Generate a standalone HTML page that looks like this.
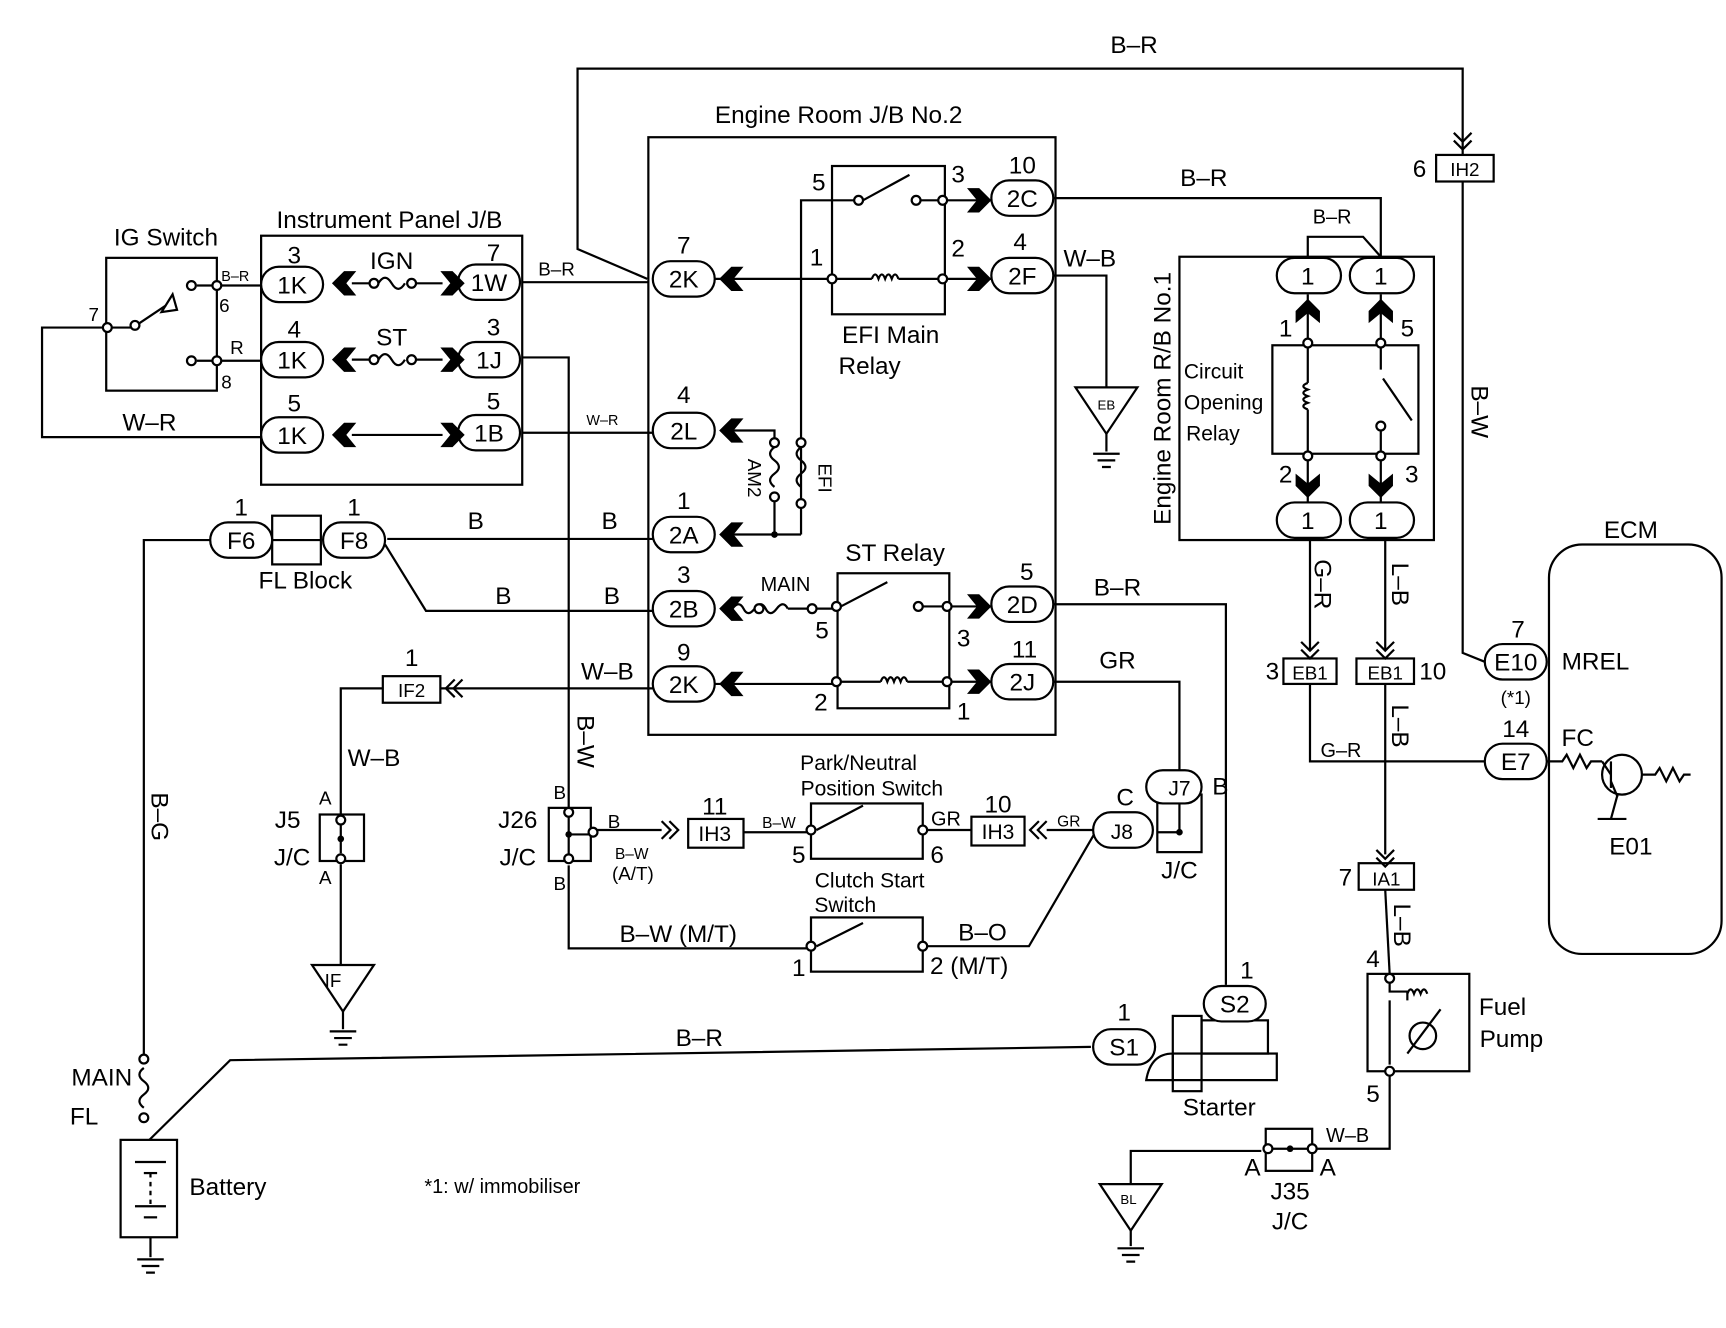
<!DOCTYPE html>
<html><head><meta charset="utf-8"><style>
html,body{margin:0;padding:0;background:#fff}
svg{display:block}
text{font-family:"Liberation Sans",sans-serif;fill:#000}
</style></head><body>
<svg width="1726" height="1328" viewBox="0 0 1560 1200" preserveAspectRatio="none" xmlns="http://www.w3.org/2000/svg">
<defs>
<path id="cr" d="M-12,-11 L-1,-11 L10,0 L-1,11 L-12,11 L-3,0Z" fill="#000"/>
<path id="cl" d="M12,-11 L1,-11 L-10,0 L1,11 L12,11 L3,0Z" fill="#000"/>
<path id="cu" d="M-11,12 L-11,1 L0,-10 L11,1 L11,12 L0,3Z" fill="#000"/>
<path id="cd" d="M-11,-12 L-11,-1 L0,10 L11,-1 L11,-12 L0,-3Z" fill="#000"/>
<path id="od" d="M-8,-10 L0,-2 L8,-10 M-8,-3 L0,5 L8,-3" fill="none" stroke="#000" stroke-width="2"/>
<path id="ol" d="M10,-8 L2,0 L10,8 M3,-8 L-5,0 L3,8" fill="none" stroke="#000" stroke-width="2"/>
<path id="orr" d="M-10,-8 L-2,0 L-10,8 M-3,-8 L5,0 L-3,8" fill="none" stroke="#000" stroke-width="2"/>
<path id="gnd" d="M-12,0 L12,0 M-8,6 L8,6 M-4,12 L4,12" fill="none" stroke="#000" stroke-width="2"/>
</defs>
<g fill="none" stroke="#000" stroke-width="2">
<!-- top B-R loop -->
<polyline points="585,252 522,225 522,62 1322,62 1322,140"/>
<rect x="1298" y="140" width="52" height="24"/>
<polyline points="1322,164 1322,590 1342,598"/>
<!-- Engine Room J/B No.2 -->
<rect x="586" y="124" width="368" height="540"/>
<!-- EFI main relay -->
<rect x="752" y="150" width="102" height="134"/>
<polyline points="724,455 724,181 776,181"/>
<line x1="780" y1="181" x2="822" y2="158"/>
<line x1="832" y1="181" x2="848" y2="181"/>
<line x1="856" y1="181" x2="900" y2="181"/>
<line x1="646" y1="252" x2="752" y2="252"/>
<line x1="756" y1="252" x2="788" y2="252"/>
<path d="M788,252 q3,-8 6,0 q3,-8 6,0 q3,-8 6,0 q3,-8 6,0"/>
<line x1="812" y1="252" x2="848" y2="252"/>
<line x1="856" y1="252" x2="900" y2="252"/>
<!-- 2C / 2F -->
<polyline points="952,179 1248,179 1248,232"/>
<polyline points="952,249 1000,249 1000,350"/>
<polygon points="972,350 1028,350 1000,392"/>
<line x1="1000" y1="392" x2="1000" y2="408"/>
<!-- IG switch -->
<rect x="96" y="233" width="100" height="120"/>
<polyline points="94,296 38,296 38,395 236,395"/>
<line x1="101" y1="296" x2="118" y2="296"/>
<line x1="126" y1="292" x2="150" y2="276"/>
<polygon points="146,282 156,266 160,280"/>
<line x1="178" y1="258" x2="236" y2="258"/>
<line x1="178" y1="326" x2="236" y2="326"/>
<!-- Instrument panel J/B -->
<rect x="236" y="213" width="236" height="225"/>
<line x1="318" y1="256" x2="334" y2="256"/>
<path d="M342,256 q6,-10 12,0 q6,10 12,0"/>
<line x1="374" y1="256" x2="400" y2="256"/>
<line x1="318" y1="325" x2="334" y2="325"/>
<path d="M342,325 q6,-10 12,0 q6,10 12,0"/>
<line x1="374" y1="325" x2="400" y2="325"/>
<line x1="318" y1="393" x2="400" y2="393"/>
<line x1="472" y1="255" x2="586" y2="255"/>
<polyline points="472,323 514,323 514,730"/>
<line x1="472" y1="391" x2="594" y2="391"/>
<!-- 2L, AM2, EFI -->
<polyline points="660,389 700,389 700,404"/>
<path d="M700,404 q-8,6 0,12 q8,6 0,12 q-8,6 0,12"/>
<line x1="700" y1="445" x2="700" y2="483"/>
<path d="M724,404 q-8,6 0,12 q8,6 0,12 q-8,6 0,12"/>
<line x1="724" y1="459" x2="724" y2="483"/>
<line x1="660" y1="483" x2="724" y2="483"/>
<line x1="350" y1="487" x2="594" y2="487"/>
<!-- FL block -->
<rect x="246" y="466" width="44" height="44"/>
<line x1="246" y1="488" x2="290" y2="488"/>
<polyline points="190,488 130,488 130,955"/>
<polyline points="348,492 385,552 594,552"/>
<!-- ST relay -->
<rect x="757" y="518" width="101" height="122"/>
<path d="M662,550 q6,-8 10,0 q4,8 10,0 q6,-8 10,0 q4,8 10,0 q6,-8 10,0"/>
<line x1="712" y1="550" x2="752" y2="550"/>
<line x1="760" y1="548" x2="802" y2="526"/>
<line x1="834" y1="548" x2="852" y2="548"/>
<line x1="860" y1="548" x2="900" y2="548"/>
<line x1="646" y1="618" x2="752" y2="618"/>
<line x1="760" y1="616" x2="796" y2="616"/>
<path d="M796,616 q3,-8 6,0 q3,-8 6,0 q3,-8 6,0 q3,-8 6,0"/>
<line x1="820" y1="616" x2="852" y2="616"/>
<line x1="860" y1="616" x2="900" y2="616"/>
<line x1="398" y1="622" x2="594" y2="622"/>
<rect x="346" y="611" width="52" height="24"/>
<polyline points="346,622 308,622 308,736"/>
<polyline points="952,546 1108,546 1108,890"/>
<polyline points="952,616 1066,616 1066,698"/>
<!-- J5 -->
<rect x="289" y="736" width="40" height="42"/>
<line x1="308" y1="745" x2="308" y2="771"/>
<line x1="308" y1="781" x2="308" y2="872"/>
<polygon points="282,872 338,872 310,914"/>
<line x1="310" y1="914" x2="310" y2="930"/>
<!-- J26 -->
<rect x="496" y="730" width="38" height="48"/>
<line x1="514" y1="738" x2="514" y2="772"/>
<line x1="514" y1="754" x2="532" y2="754"/>
<line x1="540" y1="750" x2="598" y2="750"/>
<rect x="622" y="740" width="50" height="26"/>
<line x1="672" y1="752" x2="730" y2="752"/>
<rect x="733" y="726" width="101" height="50"/>
<line x1="738" y1="750" x2="780" y2="728"/>
<line x1="838" y1="750" x2="878" y2="750"/>
<rect x="878" y="738" width="48" height="26"/>
<line x1="946" y1="750" x2="988" y2="750"/>
<polyline points="514,782 514,857 730,857"/>
<rect x="733" y="829" width="101" height="49"/>
<line x1="738" y1="855" x2="780" y2="834"/>
<polyline points="838,855 930,855 990,752"/>
<!-- J7/J8 -->
<rect x="1046" y="718" width="40" height="52"/>
<polyline points="1066,726 1066,752 1046,752"/>
<!-- Starter -->
<polyline points="986,946 208,958 135,1030"/>
<rect x="1086" y="922" width="60" height="30"/>
<rect x="1060" y="918" width="26" height="68"/>
<rect x="1060" y="952" width="94" height="24"/>
<path d="M1060,952 q-20,0 -24,24 L1060,976"/>
<!-- MAIN FL / battery -->
<path d="M130,965 q-8,6 0,12 q8,6 0,12 q-8,6 0,12"/>
<rect x="109" y="1030" width="51" height="88"/>
<line x1="122" y1="1050" x2="150" y2="1050"/><line x1="130" y1="1060" x2="142" y2="1060"/>
<line x1="122" y1="1090" x2="150" y2="1090"/><line x1="130" y1="1100" x2="142" y2="1100"/>
<line x1="136" y1="1060" x2="136" y2="1090" stroke-dasharray="4,4"/>
<line x1="136" y1="1118" x2="136" y2="1136"/>
<!-- Engine Room R/B No.1 -->
<rect x="1066" y="232" width="230" height="256"/>
<polyline points="1182,232 1182,214 1232,214 1248,232"/>
<line x1="1182" y1="266" x2="1182" y2="306"/>
<line x1="1248" y1="266" x2="1248" y2="306"/>
<rect x="1150" y="312" width="132" height="98"/>
<line x1="1182" y1="314" x2="1182" y2="346"/>
<path d="M1182,346 q-8,3 0,6 q-8,3 0,6 q-8,3 0,6 q-8,3 0,6"/>
<line x1="1182" y1="370" x2="1182" y2="408"/>
<line x1="1248" y1="314" x2="1248" y2="334"/>
<line x1="1250" y1="342" x2="1276" y2="380"/>
<line x1="1248" y1="389" x2="1248" y2="408"/>
<line x1="1182" y1="416" x2="1182" y2="454"/>
<line x1="1248" y1="416" x2="1248" y2="454"/>
<line x1="1184" y1="486" x2="1184" y2="588"/>
<rect x="1160" y="595" width="48" height="23"/>
<polyline points="1184,618 1184,688 1342,688"/>
<line x1="1252" y1="486" x2="1252" y2="588"/>
<rect x="1226" y="595" width="52" height="23"/>
<line x1="1252" y1="618" x2="1252" y2="772"/>
<rect x="1228" y="780" width="50" height="24"/>
<line x1="1252" y1="804" x2="1256" y2="880"/>
<!-- fuel pump -->
<rect x="1236" y="880" width="92" height="88"/>
<polyline points="1256,888 1256,896 1272,896 1272,904"/>
<path d="M1272,898 q3,-8 6,0 q3,-8 6,0 q3,-8 6,0"/>
<line x1="1256" y1="904" x2="1256" y2="962"/>
<circle cx="1286" cy="936" r="12"/>
<line x1="1272" y1="952" x2="1302" y2="912"/>
<polyline points="1256,972 1256,1038 1190,1038"/>
<rect x="1144" y="1020" width="42" height="38"/>
<line x1="1150" y1="1038" x2="1182" y2="1038"/>
<polyline points="1140,1040 1022,1040 1022,1070"/>
<polygon points="994,1070 1050,1070 1022,1112"/>
<line x1="1022" y1="1112" x2="1022" y2="1126"/>
<!-- ECM -->
<rect x="1400" y="492" width="156" height="370" rx="30"/>
<path d="M1398,688 L1412,688 l4,-6 l6,12 l6,-12 l6,12 l4,-6 L1448,688"/>
<circle cx="1466" cy="700" r="18"/>
<line x1="1456" y1="688" x2="1456" y2="712"/>
<line x1="1456" y1="700" x2="1448" y2="688"/>
<line x1="1456" y1="706" x2="1462" y2="720"/>
<line x1="1462" y1="718" x2="1456" y2="740"/>
<line x1="1444" y1="740" x2="1470" y2="740"/>
<path d="M1484,700 L1496,700 l4,-6 l6,12 l6,-12 l6,12 l4,-6 L1528,700"/>
</g>
<g fill="#fff" stroke="#000" stroke-width="2">
<!-- connectors -->
<rect x="236" y="241" width="56" height="32" rx="16"/>
<rect x="236" y="309" width="56" height="32" rx="16"/>
<rect x="236" y="377" width="56" height="32" rx="16"/>
<rect x="414" y="239" width="56" height="32" rx="16"/>
<rect x="414" y="309" width="56" height="32" rx="16"/>
<rect x="414" y="375" width="56" height="32" rx="16"/>
<rect x="590" y="236" width="56" height="32" rx="16"/>
<rect x="590" y="373" width="56" height="32" rx="16"/>
<rect x="590" y="467" width="56" height="32" rx="16"/>
<rect x="590" y="534" width="56" height="32" rx="16"/>
<rect x="590" y="602" width="56" height="32" rx="16"/>
<rect x="896" y="163" width="56" height="32" rx="16"/>
<rect x="896" y="233" width="56" height="32" rx="16"/>
<rect x="896" y="530" width="56" height="32" rx="16"/>
<rect x="896" y="600" width="56" height="32" rx="16"/>
<rect x="190" y="472" width="56" height="32" rx="16"/>
<rect x="292" y="472" width="56" height="32" rx="16"/>
<rect x="1154" y="233" width="58" height="32" rx="16"/>
<rect x="1220" y="233" width="58" height="32" rx="16"/>
<rect x="1154" y="454" width="58" height="32" rx="16"/>
<rect x="1220" y="454" width="58" height="32" rx="16"/>
<rect x="1342" y="582" width="56" height="32" rx="16"/>
<rect x="1342" y="672" width="56" height="32" rx="16"/>
<rect x="1036" y="696" width="50" height="30" rx="15"/>
<rect x="988" y="734" width="54" height="32" rx="16"/>
<rect x="1088" y="891" width="56" height="32" rx="16"/>
<rect x="988" y="930" width="56" height="32" rx="16"/>
<!-- circles -->
<circle cx="97" cy="296" r="4"/><circle cx="122" cy="294" r="4"/>
<circle cx="173" cy="258" r="4"/><circle cx="196" cy="258" r="4"/>
<circle cx="173" cy="326" r="4"/><circle cx="196" cy="326" r="4"/>
<circle cx="338" cy="256" r="4"/><circle cx="372" cy="256" r="4"/>
<circle cx="338" cy="325" r="4"/><circle cx="372" cy="325" r="4"/>
<circle cx="776" cy="181" r="4"/><circle cx="828" cy="181" r="4"/><circle cx="852" cy="181" r="4"/>
<circle cx="752" cy="252" r="4"/><circle cx="852" cy="252" r="4"/>
<circle cx="700" cy="400" r="4"/><circle cx="700" cy="449" r="4"/>
<circle cx="724" cy="400" r="4"/><circle cx="724" cy="455" r="4"/>
<circle cx="686" cy="550" r="4"/><circle cx="734" cy="550" r="4"/>
<circle cx="756" cy="548" r="4"/><circle cx="830" cy="548" r="4"/><circle cx="856" cy="548" r="4"/>
<circle cx="756" cy="616" r="4"/><circle cx="856" cy="616" r="4"/>
<circle cx="308" cy="741" r="4"/><circle cx="308" cy="776" r="4"/>
<circle cx="514" cy="734" r="4"/><circle cx="514" cy="776" r="4"/><circle cx="536" cy="752" r="4"/>
<circle cx="733" cy="750" r="4"/><circle cx="834" cy="750" r="4"/>
<circle cx="733" cy="855" r="4"/><circle cx="834" cy="855" r="4"/>
<circle cx="130" cy="957" r="4"/><circle cx="130" cy="1010" r="4"/>
<circle cx="1182" cy="310" r="4"/><circle cx="1248" cy="310" r="4"/>
<circle cx="1182" cy="412" r="4"/><circle cx="1248" cy="412" r="4"/><circle cx="1248" cy="385" r="4"/>
<circle cx="1256" cy="884" r="4"/><circle cx="1256" cy="968" r="4"/>
<circle cx="1146" cy="1038" r="4"/><circle cx="1186" cy="1038" r="4"/>
</g>
<circle cx="514" cy="754" r="3" fill="#000"/>
<circle cx="308" cy="758" r="3" fill="#000"/>
<circle cx="1066" cy="752" r="3" fill="#000"/>
<circle cx="1166" cy="1038" r="3" fill="#000"/>
<circle cx="700" cy="483" r="3" fill="#000"/>
<!-- chevrons -->
<use href="#cl" x="310" y="256"/><use href="#cr" x="410" y="256"/>
<use href="#cl" x="310" y="325"/><use href="#cr" x="410" y="325"/>
<use href="#cl" x="310" y="393"/><use href="#cr" x="410" y="393"/>
<use href="#cl" x="660" y="252"/><use href="#cl" x="660" y="389"/><use href="#cl" x="660" y="483"/>
<use href="#cl" x="660" y="550"/><use href="#cl" x="660" y="618"/>
<use href="#cr" x="886" y="181"/><use href="#cr" x="886" y="252"/>
<use href="#cr" x="886" y="548"/><use href="#cr" x="886" y="616"/>
<use href="#cu" x="1182" y="280"/><use href="#cu" x="1248" y="280"/>
<use href="#cd" x="1182" y="440"/><use href="#cd" x="1248" y="440"/>
<use href="#od" x="1322" y="130"/><use href="#od" x="1184" y="590"/><use href="#od" x="1252" y="590"/><use href="#od" x="1252" y="778"/>
<use href="#ol" x="408" y="622"/><use href="#ol" x="936" y="750"/><use href="#orr" x="608" y="750"/>
<use href="#gnd" x="1000" y="410"/><use href="#gnd" x="310" y="932"/><use href="#gnd" x="136" y="1138"/><use href="#gnd" x="1022" y="1128"/>
<!-- texts -->
<g font-size="22" text-anchor="middle">
<text x="1025" y="48">B–R</text>
<text x="758" y="111">Engine Room J/B No.2</text>
<text x="150" y="222">IG Switch</text>
<text x="352" y="206">Instrument Panel J/B</text>
<text x="264" y="265">1K</text><text x="264" y="333">1K</text><text x="264" y="401">1K</text>
<text x="442" y="263">1W</text><text x="442" y="333">1J</text><text x="442" y="399">1B</text>
<text x="266" y="238">3</text><text x="266" y="305">4</text><text x="266" y="372">5</text>
<text x="446" y="236">7</text><text x="446" y="303">3</text><text x="446" y="370">5</text>
<text x="354" y="243">IGN</text><text x="354" y="312">ST</text>
<text x="135" y="389">W–R</text>
<text x="618" y="260">2K</text><text x="618" y="229">7</text>
<text x="618" y="397">2L</text><text x="618" y="364">4</text>
<text x="618" y="491">2A</text><text x="618" y="460">1</text>
<text x="618" y="558">2B</text><text x="618" y="527">3</text>
<text x="618" y="626">2K</text><text x="618" y="597">9</text>
<text x="924" y="187">2C</text><text x="924" y="157">10</text>
<text x="924" y="257">2F</text><text x="922" y="226">4</text>
<text x="924" y="554">2D</text><text x="928" y="524">5</text>
<text x="924" y="624">2J</text><text x="926" y="594">11</text>
<text x="740" y="172">5</text><text x="866" y="165">3</text>
<text x="738" y="240">1</text><text x="866" y="232">2</text>
<text x="805" y="310">EFI Main</text><text x="786" y="338">Relay</text>
<text x="1088" y="168">B–R</text><text x="985" y="241">W–B</text>
<text x="503" y="249" font-size="17">B–R</text>
<text x="430" y="478">B</text><text x="551" y="478">B</text>
<text x="455" y="546">B</text><text x="553" y="546">B</text>
<text x="218" y="496">F6</text><text x="320" y="496">F8</text>
<text x="218" y="466">1</text><text x="320" y="466">1</text>
<text x="276" y="532">FL Block</text>
<text x="809" y="507">ST Relay</text>
<text x="710" y="534" font-size="18">MAIN</text>
<text x="743" y="577">5</text><text x="871" y="584">3</text>
<text x="742" y="642">2</text><text x="871" y="650">1</text>
<text x="1010" y="538">B–R</text><text x="1010" y="604">GR</text>
<text x="549" y="614">W–B</text>
<text x="372" y="630" font-size="17">IF2</text><text x="372" y="602">1</text>
<text x="338" y="692">W–B</text>
<text x="260" y="748">J5</text><text x="264" y="782">J/C</text>
<text x="294" y="727" font-size="17">A</text><text x="294" y="799" font-size="17">A</text>
<text x="301" y="892" font-size="17">IF</text>
<text x="468" y="748">J26</text><text x="468" y="782">J/C</text>
<text x="506" y="722" font-size="17">B</text><text x="506" y="804" font-size="17">B</text>
<text x="555" y="748" font-size="17">B</text>
<text x="571" y="776" font-size="14">B–W</text><text x="572" y="795" font-size="17">(A/T)</text>
<text x="646" y="760" font-size="19">IH3</text><text x="646" y="736">11</text>
<text x="704" y="748" font-size="14">B–W</text>
<text x="776" y="696" font-size="19">Park/Neutral</text><text x="788" y="719" font-size="19">Position Switch</text>
<text x="722" y="780">5</text><text x="847" y="780">6</text>
<text x="855" y="746" font-size="18">GR</text>
<text x="902" y="758" font-size="19">IH3</text><text x="902" y="734">10</text>
<text x="966" y="747" font-size="14">GR</text>
<text x="1014" y="758" font-size="19">J8</text>
<text x="1066" y="719" font-size="19">J7</text>
<text x="1017" y="728">C</text><text x="1103" y="718">B</text>
<text x="1066" y="794">J/C</text>
<text x="786" y="802" font-size="19">Clutch Start</text><text x="764" y="824" font-size="19">Switch</text>
<text x="613" y="851">B–W (M/T)</text><text x="888" y="850">B–O</text>
<text x="722" y="882">1</text><text x="876" y="880">2 (M/T)</text>
<text x="1116" y="915">S2</text><text x="1127" y="884">1</text>
<text x="1016" y="954">S1</text><text x="1016" y="922">1</text>
<text x="1102" y="1008">Starter</text>
<text x="632" y="945">B–R</text>
<text x="92" y="981">MAIN</text><text x="76" y="1016">FL</text>
<text x="206" y="1080">Battery</text>
<text x="454" y="1078" font-size="18">*1: w/ immobiliser</text>
<text x="1324" y="159" font-size="17">IH2</text><text x="1283" y="160">6</text>
<text x="1182" y="257">1</text><text x="1248" y="257">1</text>
<text x="1182" y="478">1</text><text x="1248" y="478">1</text>
<text x="1204" y="202" font-size="18">B–R</text>
<text x="1162" y="304">1</text><text x="1272" y="304">5</text>
<text x="1162" y="436">2</text><text x="1276" y="436">3</text>
<text x="1184" y="614" font-size="17">EB1</text><text x="1150" y="614">3</text>
<text x="1252" y="614" font-size="17">EB1</text><text x="1295" y="614">10</text>
<text x="1212" y="684" font-size="18">G–R</text>
<text x="1253" y="800" font-size="17">IA1</text><text x="1216" y="800">7</text>
<text x="1241" y="874">4</text><text x="1241" y="996">5</text>
<text x="1358" y="917">Fuel</text><text x="1366" y="946">Pump</text>
<text x="1218" y="1032" font-size="18">W–B</text>
<text x="1132" y="1062">A</text><text x="1200" y="1062">A</text>
<text x="1166" y="1084">J35</text><text x="1166" y="1111">J/C</text>
<text x="1020" y="1088" font-size="12">BL</text>
<text x="1000" y="370" font-size="12">EB</text>
<text x="1474" y="486">ECM</text>
<text x="1370" y="606">E10</text><text x="1372" y="576">7</text>
<text x="1442" y="605" text-anchor="middle">MREL</text>
<text x="1370" y="636" font-size="17">(*1)</text>
<text x="1370" y="696">E7</text><text x="1370" y="666">14</text>
<text x="1426" y="674">FC</text><text x="1474" y="772">E01</text>
</g>
<g font-size="19" text-anchor="start">
<text x="1070" y="342">Circuit</text><text x="1070" y="370">Opening</text><text x="1072" y="398">Relay</text>
<text x="200" y="254" font-size="13">B–R</text><text x="208" y="320" font-size="17">R</text>
<text x="198" y="282" font-size="17">6</text><text x="200" y="351" font-size="17">8</text><text x="80" y="290" font-size="17">7</text>
<text x="530" y="384" font-size="13">W–R</text>
</g>
<g font-size="22" text-anchor="middle">
<text transform="translate(1058,360) rotate(-90)">Engine Room R/B No.1</text>
<text transform="translate(1330,372) rotate(90)">B–W</text>
<text transform="translate(1188,528) rotate(90)">G–R</text>
<text transform="translate(1258,528) rotate(90)">L–B</text>
<text transform="translate(1258,656) rotate(90)">L–B</text>
<text transform="translate(1260,836) rotate(90)">L–B</text>
<text transform="translate(522,670) rotate(90)">B–W</text>
<text transform="translate(137,738) rotate(90)">B–G</text>
<text transform="translate(676,432) rotate(90)" font-size="17">AM2</text>
<text transform="translate(740,432) rotate(90)" font-size="17">EFI</text>
</g>
</svg>
</body></html>
